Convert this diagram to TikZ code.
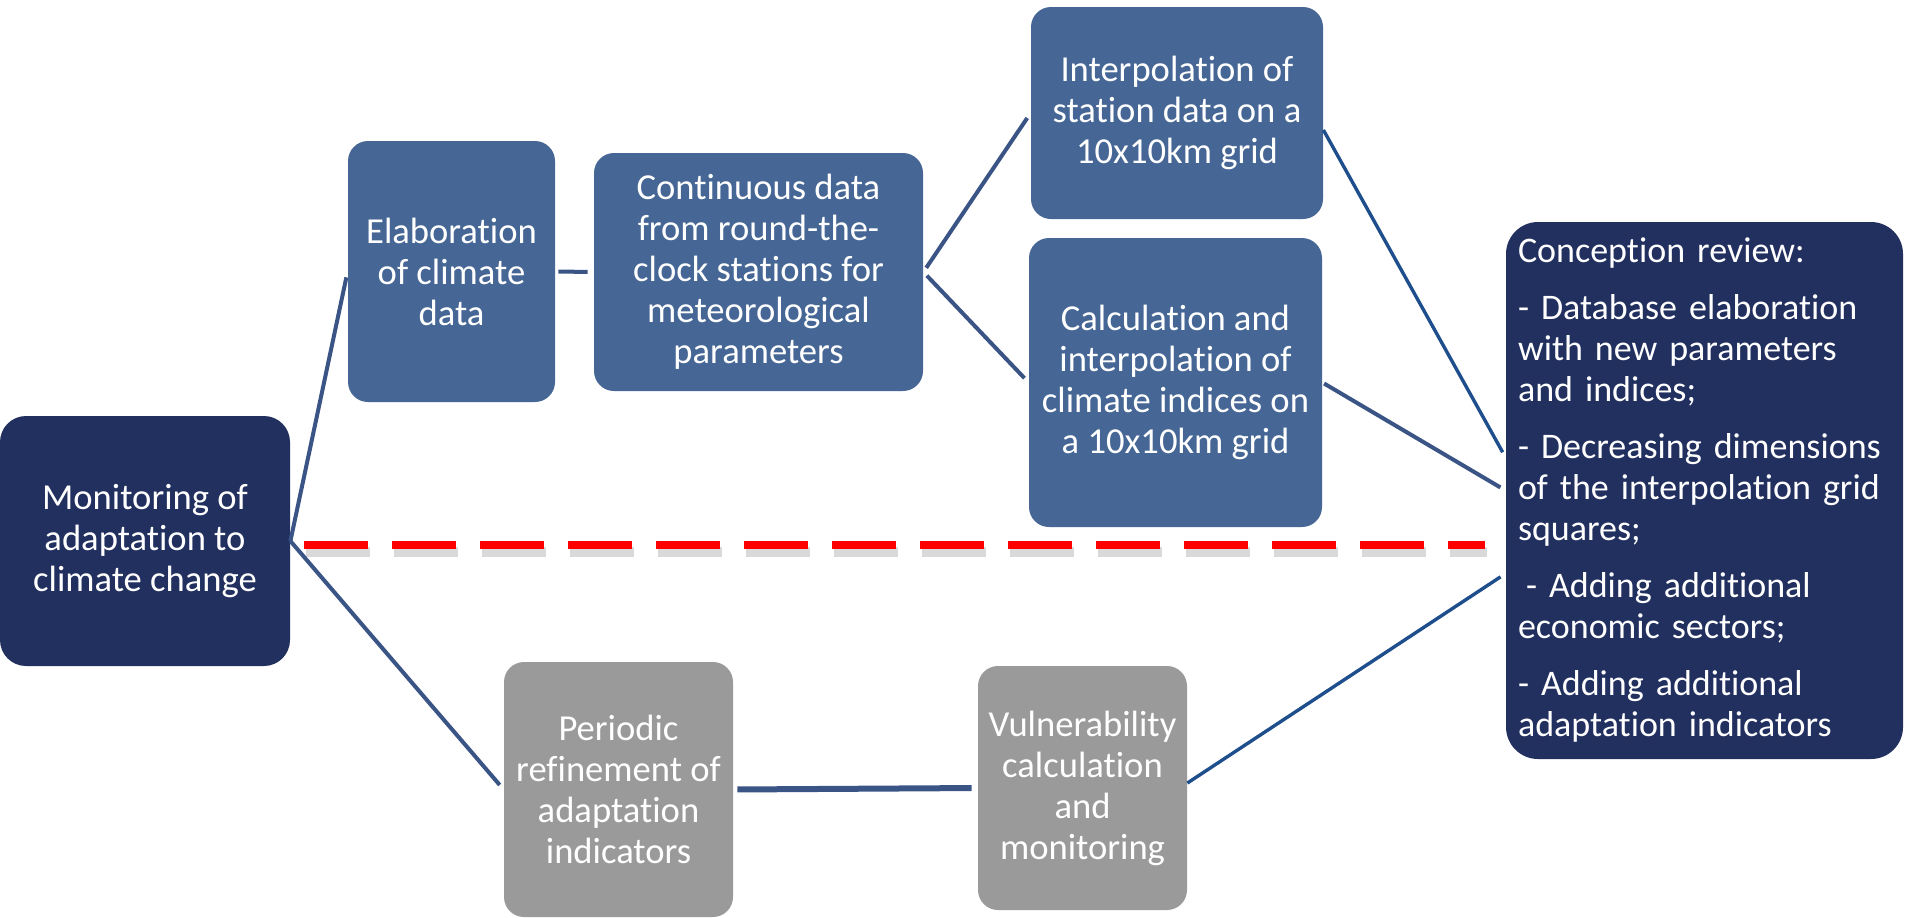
\documentclass[tikz,border=0pt]{standalone}
\usepackage{fontspec}
\setmainfont{Carlito}[Ligatures = NoCommon]
\definecolor{navy}{HTML}{22305F}
\definecolor{boxblue}{HTML}{466795}
\definecolor{boxgray}{HTML}{9A9A9A}
\definecolor{linkblue}{HTML}{3A5585}
\definecolor{deepblue}{HTML}{1E4E8C}
\begin{document}
\begin{tikzpicture}[x = .5pt, y = -.5pt,
	box/.style = {rounded corners = 10pt, text = white, align = center, inner sep = 0pt, font = \fontsize{18.3}{20.5}\selectfont},
	bluebox/.style = {box, fill = boxblue},
	navybox/.style = {box, fill = navy},
	graybox/.style = {box, fill = boxgray},
	link/.style = {draw = linkblue, line width = 2pt, shorten > = 3pt}]
	\useasboundingbox (0,0) rectangle (1905,917);
	% boxes
	\node[navybox, minimum width = 145pt, minimum height = 125pt, rounded corners = 13pt] (mon) at (145,541) {Monitoring of\\adaptation to\\climate change};
	\node[bluebox, minimum width = 103.5pt, minimum height = 130.5pt] (elab) at (451.5,271.5) {Elaboration\\of climate\\data};
	\node[bluebox, minimum width = 164.5pt, minimum height = 119pt] (cont) at (758.5,272) {Continuous data\\from round-the-\\clock stations for\\meteorological\\parameters};
	\node[bluebox, minimum width = 146pt, minimum height = 106pt] (interp) at (1177,113) {Interpolation of\\station data on a\\10x10km grid};
	\node[bluebox, minimum width = 146.5pt, minimum height = 144.5pt] (calc) at (1175.5,382.5) {Calculation and\\interpolation of\\climate indices on\\a 10x10km grid};
	\node[navybox, align = left, text width = 186.5pt, inner xsep = 6pt, minimum height = 268.5pt, rounded corners = 16pt, font = \fontsize{18}{20.5}\selectfont] (conc) at (1704.5,490.5) {Conception review:\\[8pt]
		- Database elaboration\\with new parameters\\and indices;\\[8pt]
		- Decreasing dimensions\\of the interpolation grid\\squares;\\[8pt]
		\hspace{4pt}- Adding additional\\economic sectors;\\[8pt]
		- Adding additional\\adaptation indicators};
	\node[graybox, minimum width = 114.5pt, minimum height = 127.5pt] (peri) at (618.5,789.5) {Periodic\\refinement of\\adaptation\\indicators};
	\node[graybox, minimum width = 104.5pt, minimum height = 122pt] (vuln) at (1082.5,788) {Vulnerability\\calculation\\and\\monitoring};
	% separator
	\draw[gray!30, line width = 5pt, dash pattern = on 32pt off 12pt] (306,552) -- (1487,552);
	\draw[red, line width = 4pt, dash pattern = on 32pt off 12pt] (304,545) -- (1485,545);
	% connectors
	\draw[link] (mon.east) -- (elab.west);
	\draw[link] (mon.east) -- (peri.west);
	\draw[link, shorten < = 1.5pt] (elab.east) -- (cont.west);
	\draw[link, shorten < = 2.5pt] (cont.east) -- (interp.west);
	\draw[link, shorten < = 2.5pt] (cont.east) -- (calc.west);
	\draw[link, line width = 3pt, shorten < = 2pt] (peri.east) -- (vuln.west);
	\draw[link, draw = deepblue, line width = 1.7pt] ([yshift = -8.5pt]interp.east) -- ([yshift = 16.5pt]conc.west);
	\draw[link, shorten < = 1pt] (calc.east) -- (conc.west);
	\draw[link, draw = deepblue, line width = 1.7pt] ([yshift = 2.5pt]vuln.east) -- ([yshift = -41.5pt]conc.west);
\end{tikzpicture}
\end{document}
